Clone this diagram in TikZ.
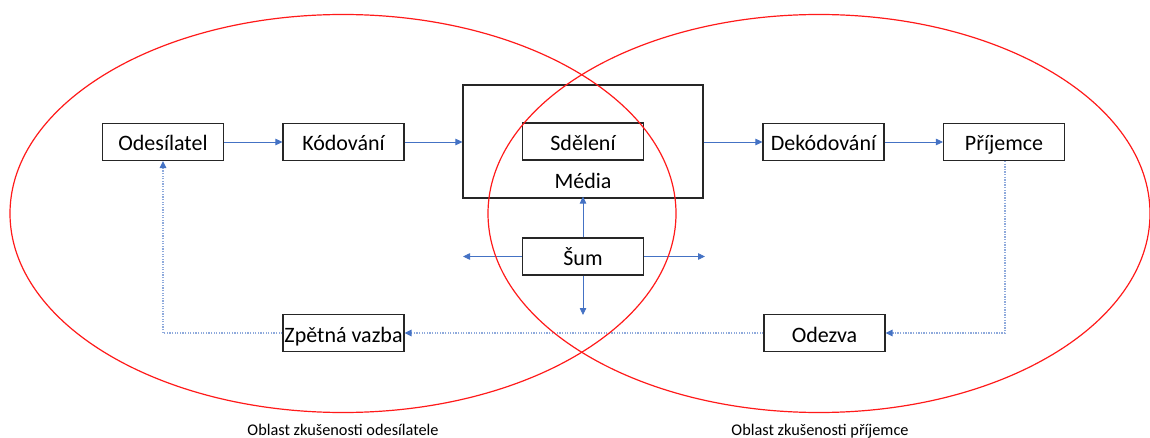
\documentclass[tikz,border=0pt]{standalone}
\usepackage{fontspec}
\setmainfont{Carlito}
\usetikzlibrary{arrows.meta}
\definecolor{flow}{HTML}{4472C4}
\definecolor{dots}{HTML}{8FAADC}
\definecolor{ring}{HTML}{FF1A1A}
\definecolor{edge}{HTML}{262626}
\begin{document}
\begin{tikzpicture}[x=1pt,y=-1pt,
  box/.style={draw=edge,line width=1.1pt,minimum width=121pt,minimum height=37pt,
    inner sep=0pt,text height=18pt,text depth=0pt,
    font=\fontsize{22}{24}\selectfont,anchor=center},
  flowarrow/.style={draw=flow,line width=0.8pt,-{Triangle[length=7pt,width=6.5pt]}},
  feedback/.style={draw=dots,line width=1.3pt,dash pattern=on 1.3pt off 1.3pt,
    -{Triangle[length=7pt,width=6.5pt,color=flow]}},
  ringstyle/.style={draw=ring,line width=1.2pt},
  caption/.style={font=\fontsize{16.3}{18}\selectfont,anchor=base}]
\useasboundingbox (0,0) rectangle (1150,438);

% top row
\node[box] (send) at (163,142) {Odesílatel};
\node[box] (code) at (343.5,142) {Kódování};
\node[draw=edge,line width=1.1pt,minimum width=240pt,minimum height=113pt,inner sep=0pt] (media) at (583,141.5) {};
\node[box] (msg) at (583,141.5) {Sdělení};
\node[font=\fontsize{22}{24}\selectfont,anchor=base] (medlabel) at (583,189) {Média};
\node[box] (decode) at (823.5,142) {Dekódování};
\node[box] (recv) at (1004,142) {Příjemce};

% noise
\node[box] (noise) at (583,256.5) {Šum};
\coordinate (nw) at (463,256.5);
\coordinate (ne) at (705,256.5);
\coordinate (ns) at (583,315);

% bottom row
\node[box] (fb) at (343.5,333) {Zpětná vazba};
\node[box] (resp) at (824.5,333) {Odezva};

% forward flow
\draw[flowarrow] (send) -- (code);
\draw[flowarrow] (code) -- (media.west |- code);
\draw[flowarrow] (media.east |- decode) -- (decode);
\draw[flowarrow] (decode) -- (recv);

% noise spreading
\draw[flowarrow] (noise.north) -- ([yshift=2pt]media.south);
\draw[flowarrow] (noise.west) -- (nw);
\draw[flowarrow] (noise.east) -- (ne);
\draw[flowarrow] (noise.south) -- (ns);

% feedback loop
\coordinate (rc) at (1005,333);
\coordinate (lc) at (163,333);
\draw[feedback] (recv.south -| rc) -- (rc) -- (resp.east);
\draw[feedback] (resp.west) -- (fb.east);
\draw[feedback] (fb.west) -- (lc) -- (send.south);

% fields of experience
\draw[ringstyle] (343,213.5) ellipse [x radius=333, y radius=199];
\draw[ringstyle] (819,213.5) ellipse [x radius=331, y radius=199];

\node[caption] (capL) at (343,435) {Oblast zkušenosti odesílatele};
\node[caption] (capR) at (820,435) {Oblast zkušenosti příjemce};
\end{tikzpicture}
\end{document}
